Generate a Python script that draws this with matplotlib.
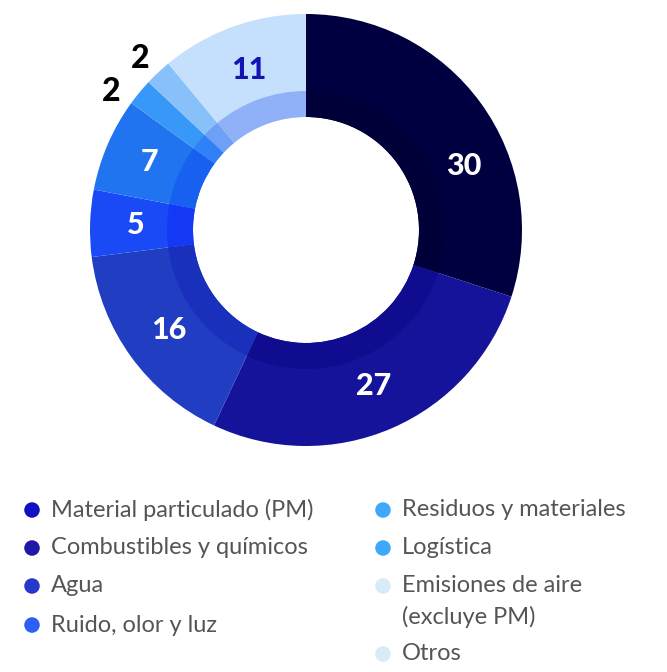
import matplotlib
matplotlib.use("Agg")
import matplotlib.pyplot as plt
import numpy as np

categories = ["Material particulado (PM)", "Combustibles y químicos", "Agua",
              "Ruido, olor y luz", "Residuos y materiales", "Logística",
              "Emisiones de aire\n(excluye PM)", "Otros"]
values = [30, 27, 16, 5, 7, 2, 2, 11]

outer_colors = ["#000040", "#15139a", "#213dc2", "#1a4af5", "#2074f0", "#3898f8", "#88c0fa", "#c5e0fc"]
inner_colors = ["#000038", "#0f0c90", "#1830bc", "#1538f5", "#1860f0", "#3080f8", "#6ea0f8", "#90b0f8"]
legend_colors = ["#1010c0", "#2018a8", "#2838c8", "#2a60f8", "#40a8f8", "#40a8f8", "#d8ecf8", "#d8ecf8"]
label_colors = ["white", "white", "white", "white", "white", "black", "black", "#1414b4"]

W, H = 667, 672
fig = plt.figure(figsize=(W / 100, H / 100), dpi=100)

cx, cy, half = 306, 230, 250
ax = fig.add_axes([(cx - half) / W, (H - cy - half) / H, 2 * half / W, 2 * half / H])

R_out, R_mid, R_in = 216, 139, 113
ax.pie(values, colors=outer_colors, radius=R_out, startangle=90, counterclock=False,
       wedgeprops=dict(width=R_out - R_in, edgecolor="none", linewidth=0))
ax.pie(values, colors=inner_colors, radius=R_mid, startangle=90, counterclock=False,
       wedgeprops=dict(width=R_mid - R_in, edgecolor="none", linewidth=0))
ax.set_xlim(-half, half)
ax.set_ylim(-half, half)
ax.set_aspect("equal")
ax.axis("off")

total = sum(values)
cum = np.cumsum([0] + values)
angle_override = {0: 22, 5: 144.5, 6: 134}
for i, v in enumerate(values):
    mid = 90 - (cum[i] + v / 2) / total * 360
    r = 239 if v <= 2 else 170
    mid = angle_override.get(i, mid)
    a = np.deg2rad(mid)
    ax.text(r * np.cos(a), r * np.sin(a), str(v), ha="center", va="center",
            fontsize=23 if v <= 2 else 22, fontweight="black", color=label_colors[i], family="Lato")

# legend
lax = fig.add_axes([0, 0, 1, 1])
lax.set_xlim(0, W)
lax.set_ylim(H, 0)
lax.axis("off")
left_rows = [510, 548, 586, 625]
right_rows = [510, 548, 586, 654]
for i, name in enumerate(categories):
    if i < 4:
        x, y = 32, left_rows[i]
    else:
        x, y = 383, right_rows[i - 4]
    lax.scatter([x], [y], s=125, color=legend_colors[i], edgecolor="none")
    lines = name.split("\n")
    for k, line in enumerate(lines):
        lax.text(x + 19, y + 31 * k, line, ha="left", va="center",
                 fontsize=17, color="#555555", family="Lato", fontweight="normal")

fig.savefig("out.png", dpi=100)
